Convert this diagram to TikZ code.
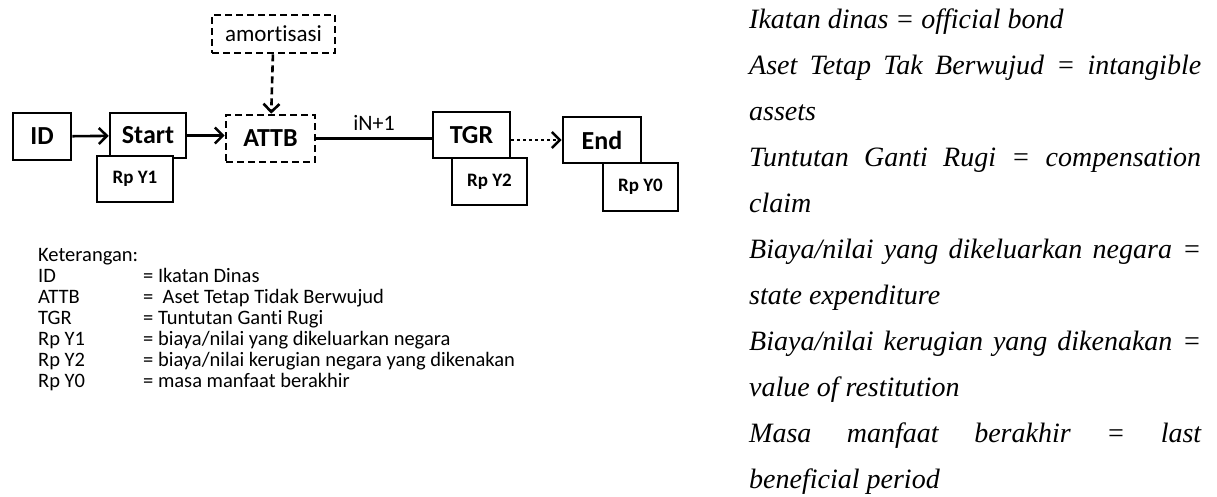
\documentclass[tikz,border=0pt]{standalone}
\usepackage{fontspec}
\newfontfamily\carlito[Ligatures=NoCommon]{Carlito}
\newfontfamily\transfont{Liberation Serif}
\usetikzlibrary{arrows.meta,positioning}

\tikzset{
  blok/.style={draw,line width=2.6pt,inner sep=0pt,fill=white,
    font=\carlito\bfseries\fontsize{26}{30}\selectfont},
  rpblok/.style={blok,font=\carlito\bfseries\fontsize{19}{22}\selectfont},
  dblok/.style={blok,dash pattern=on 7pt off 4pt},
  arr/.style={line width=2.6pt,-{Straight Barb[length=8pt,width=16pt,line width=2.6pt]}},
  ket/.style={anchor=base west,inner sep=0pt,font=\carlito\fontsize{20.5}{22}\selectfont},
  trans/.style={anchor=base west,inner sep=0pt,font=\transfont\itshape\fontsize{28}{32}\selectfont}
}

\begin{document}
\begin{tikzpicture}[x=1pt,y=-1pt]
  \useasboundingbox (0,0) rectangle (1217,496);

  % main chain
  \node[blok,minimum width=58pt,minimum height=47pt] (id) at (42,136.5) {ID};
  \node[blok,minimum width=76pt,minimum height=45pt] (start) at (148,135.5) {Start};
  \node[dblok,minimum width=89pt,minimum height=47pt] (attb) at (270.5,138.5) {ATTB};
  \node[dblok,minimum width=123pt,minimum height=38pt,
        font=\carlito\fontsize{23}{26}\selectfont] (amor) at (273.5,34) {amortisasi};
  \node[blok,minimum width=77pt,minimum height=46pt] (tgr) at (471.5,135) {TGR};
  \node[blok,minimum width=78pt,minimum height=46pt] (end) at (602,140) {End};

  % value boxes
  \node[rpblok,minimum width=76pt,minimum height=46pt] (y1) at (135,179) {Rp Y1};
  \node[rpblok,minimum width=75pt,minimum height=47pt] (y2) at (489.5,181.5) {Rp Y2};
  \node[rpblok,minimum width=75pt,minimum height=48pt] (y0) at (640.5,187) {Rp Y0};

  % connectors
  \draw[arr] (id) -- (start);
  \draw[arr] (start.east) -- (start.east -| attb.west);
  \draw[arr,dash pattern=on 7pt off 4pt] (amor) -- (attb);
  \draw[line width=2.6pt] (attb.east) -- (attb.east -| tgr.west)
    node[midway,above=3pt,font=\carlito\fontsize{22}{26}\selectfont] (iter) {iN+1};
  \draw[arr,dash pattern=on 3pt off 3pt] (tgr.east |- end.west) -- (end.west);

  % legend
  \node[ket] (kt) at (38,261.5) {Keterangan:};
  \node[ket] (k1) at (38,282.5) {ID};
  \node[ket] (k2) at (38,303.5) {ATTB};
  \node[ket] (k3) at (38,324.5) {TGR};
  \node[ket] (k4) at (38,345.5) {Rp Y1};
  \node[ket] (k5) at (38,366.5) {Rp Y2};
  \node[ket] (k6) at (38,387.5) {Rp Y0};
  \node[ket] (v1) at (143,282.5) {= Ikatan Dinas};
  \node[ket] (v2) at (143,303.5) {=~~Aset Tetap Tidak Berwujud};
  \node[ket] (v3) at (143,324.5) {= Tuntutan Ganti Rugi};
  \node[ket] (v4) at (143,345.5) {= biaya/nilai yang dikeluarkan negara};
  \node[ket] (v5) at (143,366.5) {= biaya/nilai kerugian negara yang dikenakan};
  \node[ket] (v6) at (143,387.5) {= masa manfaat berakhir};

  % translations
  \node[trans] (t1) at (749,28) {Ikatan dinas = official bond};
  \node[trans] (t2) at (749,74) {\makebox[452pt][s]{Aset Tetap Tak Berwujud = intangible}};
  \node[trans] (t3) at (749,120) {assets};
  \node[trans] (t4) at (749,166) {\makebox[452pt][s]{Tuntutan Ganti Rugi = compensation}};
  \node[trans] (t5) at (749,212) {claim};
  \node[trans] (t6) at (749,258) {\makebox[452pt][s]{Biaya/nilai yang dikeluarkan negara =}};
  \node[trans] (t7) at (749,304) {state expenditure};
  \node[trans] (t8) at (749,350) {\makebox[452pt][s]{Biaya/nilai kerugian yang dikenakan =}};
  \node[trans] (t9) at (749,396) {value of restitution};
  \node[trans] (t10) at (749,442) {\makebox[452pt][s]{Masa manfaat berakhir = last}};
  \node[trans] (t11) at (749,488) {beneficial period};
\end{tikzpicture}
\end{document}
